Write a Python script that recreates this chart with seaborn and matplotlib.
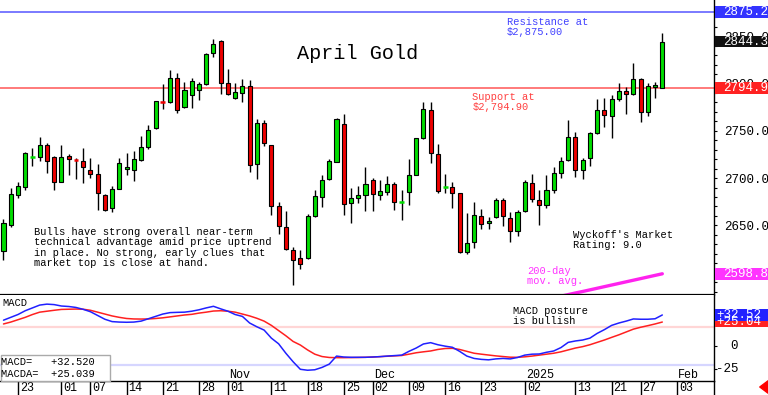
import matplotlib
matplotlib.use("Agg")
import numpy as np
import matplotlib.pyplot as plt
import matplotlib.transforms as mtransforms
from matplotlib.patches import Rectangle, FancyArrowPatch
from matplotlib.lines import Line2D
from matplotlib.ticker import MultipleLocator
import seaborn as sns

# ---------------- data (April Gold daily, Sep 19 2024 - Jan 30 2025) ----------------
opens = [2622.4, 2650.6, 2681.6, 2690.4, 2722.7, 2722.0, 2734.4, 2722.0, 2696.3, 2723.8,
         2719.4, 2718.5, 2708.6, 2704.4, 2681.6, 2668.2, 2688.6, 2709.4, 2708.6, 2719.2,
         2732.6, 2752.7, 2780.0, 2780.8, 2806.2, 2774.8, 2787.9, 2793.1, 2799.1, 2831.9,
         2845.2, 2800.9, 2784.3, 2789.6, 2797.7, 2714.6, 2757.9, 2734.4, 2670.6, 2648.1,
         2623.5, 2615.0, 2615.0, 2659.4, 2679.8, 2698.8, 2716.8, 2756.9, 2673.5, 2678.7,
         2681.6, 2698.1, 2682.3, 2685.1, 2693.9, 2674.9, 2685.1, 2703.4, 2742.1, 2772.0,
         2725.2, 2690.8, 2690.4, 2684.0, 2621.7, 2631.9, 2660.4, 2652.3, 2658.3, 2677.0,
         2657.6, 2643.5, 2664.7, 2694.6, 2677.0, 2671.0, 2687.5, 2705.8, 2719.2, 2743.9,
         2708.7, 2721.0, 2747.4, 2772.0, 2765.7, 2783.6, 2792.4, 2788.9, 2804.8, 2770.3,
         2796.7, 2795.6]
highs = [2656.9, 2689.3, 2696.3, 2728.0, 2731.5, 2743.9, 2736.8, 2723.4, 2734.4, 2725.6,
         2721.0, 2731.5, 2721.0, 2714.6, 2683.3, 2691.1, 2721.0, 2726.3, 2728.7, 2744.6,
         2756.2, 2781.5, 2799.5, 2814.3, 2810.7, 2801.9, 2805.5, 2801.9, 2832.6, 2846.6,
         2845.9, 2815.0, 2800.9, 2804.4, 2803.7, 2762.2, 2761.5, 2735.1, 2674.2, 2664.7,
         2627.0, 2624.2, 2661.8, 2687.5, 2702.7, 2719.9, 2763.2, 2767.8, 2689.3, 2691.1,
         2711.5, 2699.9, 2698.1, 2702.3, 2696.3, 2687.5, 2719.9, 2742.8, 2780.1, 2780.8,
         2735.8, 2704.4, 2696.3, 2684.7, 2662.6, 2675.2, 2667.5, 2658.7, 2678.7, 2678.7,
         2663.6, 2666.4, 2698.1, 2704.4, 2687.5, 2702.7, 2712.2, 2722.7, 2761.5, 2749.1,
         2721.0, 2749.1, 2783.3, 2784.3, 2787.9, 2800.2, 2796.7, 2822.0, 2805.5, 2800.9,
         2801.9, 2852.9]
lows = [2613.6, 2648.1, 2678.7, 2687.5, 2713.2, 2717.5, 2705.1, 2687.5, 2695.6, 2703.4,
        2699.2, 2694.6, 2699.9, 2666.4, 2664.7, 2663.6, 2688.6, 2703.4, 2697.4, 2718.5,
        2730.8, 2751.6, 2773.1, 2779.8, 2768.5, 2773.8, 2773.8, 2782.6, 2798.4, 2827.6,
        2788.9, 2787.9, 2783.6, 2780.1, 2706.9, 2698.8, 2734.0, 2661.1, 2641.1, 2624.2,
        2587.2, 2603.8, 2614.3, 2658.7, 2669.9, 2698.1, 2716.8, 2661.1, 2652.3, 2673.5,
        2664.7, 2664.7, 2676.3, 2681.6, 2666.4, 2655.2, 2671.7, 2702.7, 2741.0, 2716.4,
        2684.7, 2684.0, 2668.2, 2620.7, 2619.6, 2625.9, 2646.0, 2646.4, 2657.6, 2649.5,
        2632.3, 2638.9, 2663.6, 2675.2, 2649.9, 2668.2, 2684.0, 2699.9, 2718.5, 2701.6,
        2698.8, 2712.9, 2746.3, 2753.7, 2742.1, 2781.5, 2767.8, 2787.9, 2759.7, 2765.7,
        2784.3, 2794.9]
closes = [2652.3, 2683.3, 2691.8, 2726.3, 2723.2, 2734.4, 2717.5, 2695.6, 2722.0, 2720.3,
          2718.9, 2712.2, 2704.4, 2684.0, 2666.4, 2688.6, 2715.7, 2712.2, 2719.9, 2732.6,
          2750.9, 2781.5, 2779.5, 2806.2, 2772.0, 2793.1, 2803.0, 2799.1, 2830.8, 2841.7,
          2800.2, 2788.6, 2791.0, 2797.7, 2713.9, 2758.6, 2736.8, 2670.6, 2648.8, 2624.9,
          2613.6, 2609.4, 2659.4, 2681.2, 2698.1, 2717.5, 2762.5, 2672.4, 2678.7, 2681.6,
          2693.5, 2683.0, 2685.8, 2693.9, 2674.5, 2675.4, 2703.4, 2742.1, 2773.1, 2727.0,
          2685.8, 2691.3, 2684.0, 2621.7, 2631.2, 2661.1, 2651.6, 2654.8, 2677.0, 2659.4,
          2643.5, 2663.6, 2696.3, 2678.0, 2671.7, 2687.5, 2705.1, 2717.5, 2743.2, 2708.0,
          2719.2, 2747.4, 2772.0, 2766.7, 2783.6, 2792.4, 2788.9, 2804.4, 2770.3, 2797.7,
          2798.4, 2844.3]

ma_idx = [76, 77, 78, 79, 80, 81, 82, 83, 84, 85, 86, 87, 88, 89, 90, 91]
ma200 = [2573.4, 2575.1, 2576.8, 2578.5, 2580.1, 2581.8, 2583.5, 2585.2, 2586.9, 2588.6,
         2590.3, 2592.0, 2593.7, 2595.4, 2597.1, 2598.8]

macd = [27.0, 30.0, 33.0, 37.0, 40.0, 43.0, 44.0, 43.5, 42.0, 41.5,
        40.5, 38.5, 36.0, 32.0, 28.0, 25.5, 25.0, 24.8, 25.0, 26.0,
        28.5, 31.0, 33.5, 35.0, 35.3, 35.5, 36.5, 38.0, 40.0, 41.7,
        39.0, 36.5, 33.0, 31.0, 24.0, 20.0, 16.5, 8.0, 2.0, -8.0,
        -17.0, -25.0, -26.0, -25.5, -23.0, -19.5, -11.0, -12.0, -12.3, -12.3,
        -12.3, -12.0, -11.6, -11.0, -10.5, -10.0, -6.0, -2.5, 1.8, 3.2,
        1.0, -0.5, -1.7, -6.0, -11.0, -13.5, -14.5, -15.0, -14.0, -13.5,
        -14.0, -12.5, -10.0, -9.0, -8.8, -7.0, -5.6, -2.0, 3.5, 5.0,
        6.0, 8.0, 13.0, 17.0, 21.5, 24.0, 26.0, 28.3, 28.0, 28.0,
        28.5, 32.52]
macd_avg = [23.0, 25.0, 27.5, 30.0, 33.0, 35.5, 36.5, 37.5, 38.4, 38.6,
            38.8, 38.6, 37.5, 35.5, 33.5, 31.5, 30.0, 28.8, 28.3, 28.2,
            28.3, 28.8, 29.5, 30.5, 31.5, 32.5, 33.2, 34.5, 35.5, 36.7,
            37.0, 36.5, 35.5, 33.5, 31.5, 29.0, 26.0, 21.5, 16.0, 10.5,
            4.5, 0.7, -4.5, -9.0, -11.5, -12.5, -12.7, -12.7, -12.6, -12.5,
            -12.3, -12.0, -11.6, -11.2, -10.8, -10.4, -9.0, -7.5, -6.5, -5.6,
            -4.0, -3.0, -2.8, -4.0, -6.0, -8.0, -9.0, -9.9, -10.8, -11.5,
            -12.2, -12.3, -11.8, -11.0, -10.0, -9.0, -8.0, -6.5, -4.5, -2.5,
            -1.0, 1.0, 3.5, 6.0, 8.8, 11.5, 14.5, 17.5, 19.5, 21.2,
            23.0, 25.04]

day_tick_idx = [2, 8, 12, 17, 22, 27, 31, 37, 42, 47, 51, 56, 61, 66, 72, 79, 84, 88, 93]
day_tick_labels = ["23", "01", "07", "14", "21", "28", "01", "11", "18", "25", "02",
                   "09", "16", "23", "02", "13", "21", "27", "03"]
month_idx = [31, 51, 72, 93]
month_labels = ["Nov", "Dec", "2025", "Feb"]

resistance = 2875.2
support = 2794.9
last_price = 2844.3
ma_last = 2598.8
macd_last = 32.52
macda_last = 25.04
price_ticks = [2600, 2650, 2700, 2750, 2800, 2850]
macd_ticks = [0, -25]
macd_bands = [20, -20]

# ---------------- style ----------------
sns.set_style("white")
plt.rcParams['font.family'] = ['Liberation Mono', 'DejaVu Sans Mono']
plt.rcParams.update({'text.color': 'black', 'axes.edgecolor': 'black',
                     'xtick.color': 'black', 'ytick.color': 'black',
                     'axes.labelcolor': 'black'})

W, H = 768, 395
fig = plt.figure(figsize=(W / 100, H / 100), dpi=100)
main_bot, macd_bot, right_px = 294.5, 381.0, 713.5
ax = fig.add_axes([0, 1 - main_bot / H, right_px / W, main_bot / H])
ax2 = fig.add_axes([0, 1 - macd_bot / H, right_px / W, (macd_bot - main_bot) / H])
xlim = (-0.483, 98.07)

# ---------------- main price panel ----------------
n = len(closes)
idx = np.arange(n)
o = np.array(opens); c = np.array(closes)
up_col, dn_col = '#00dd00', '#ee0000'
cols = np.where(c >= o, up_col, dn_col)
bw = 0.56

ax.axhline(resistance, color='#7070ff', lw=1.3, zorder=1)
ax.axhline(support, color='#ff7070', lw=1.3, zorder=1)

ax.vlines(idx, lows, highs, color='black', lw=1.0, zorder=2)
body = np.abs(c - o)
doji = body < 1.0
ax.bar(idx[~doji], body[~doji], bottom=np.minimum(o, c)[~doji], width=bw,
       color=cols[~doji], edgecolor='black', linewidth=0.8, zorder=3)
for i in idx[doji]:
    ax.hlines(o[i], i - bw / 2 - 0.05, i + bw / 2 + 0.05, color=cols[i], lw=1.8, zorder=3)

sns.lineplot(x=ma_idx, y=ma200, ax=ax, color='#ff22ee', lw=2.4, zorder=2)

ax.set_xlim(*xlim)
ax.set_ylim(2576.9, 2888.2)
ax.set_xticks([])
ax.set_xlabel(''); ax.set_ylabel('')
ax.yaxis.tick_right()
ax.set_yticks(price_ticks)
ax.set_yticklabels([f"{v:.1f}" for v in price_ticks])
ax.yaxis.set_minor_locator(MultipleLocator(10))
ax.tick_params(axis='y', which='both', right=True, left=False, direction='out',
               length=2.5, width=0.8, pad=4.8, labelsize=9)
for s in ('left', 'top'):
    ax.spines[s].set_visible(False)
ax.spines['bottom'].set_linewidth(1.6)
ax.spines['right'].set_linewidth(1.0)

# value boxes on the right axis
def value_box(a, v, label, fc, h_units, x_text=723):
    tr = mtransforms.blended_transform_factory(a.transAxes, a.transData)
    a.add_patch(Rectangle((715 / right_px, v - h_units / 2), 60 / right_px, h_units,
                          transform=tr, facecolor=fc, edgecolor='none',
                          clip_on=False, zorder=10))
    a.text(x_text / right_px, v, label, transform=tr, color='white', fontsize=9,
           ha='left', va='center', clip_on=False, zorder=11)

value_box(ax, resistance, f"{resistance:.1f}", '#3333ff', 12.5)
value_box(ax, last_price, f"{last_price:.1f}", '#111111', 12.5)
value_box(ax, support, f"{support:.1f}", '#ff2222', 12.5)
value_box(ax, ma_last, f"{ma_last:.1f}", '#ff33ff', 12.5)

# ---------------- MACD panel ----------------
for v, colr in zip(macd_bands, ['#ffd6d6', '#d6d6ff']):
    ax2.axhline(v, color=colr, lw=1.6, zorder=1)
sns.lineplot(x=idx, y=macd_avg, ax=ax2, color='#ff2020', lw=1.1, zorder=3)
sns.lineplot(x=idx, y=macd, ax=ax2, color='#2020ff', lw=1.1, zorder=4)
ax2.set_xlim(*xlim)
ax2.set_ylim(-37.4, 54.2)
ax2.set_xlabel(''); ax2.set_ylabel('')
for s in ('left', 'top'):
    ax2.spines[s].set_visible(False)
ax2.spines['bottom'].set_linewidth(1.0)
ax2.spines['right'].set_linewidth(1.0)
ax2.yaxis.tick_right()
ax2.set_yticks(macd_ticks)
ax2.set_yticklabels([])
ax2.tick_params(axis='y', right=True, left=False, direction='out', length=2.5, width=0.8)
tr2 = mtransforms.blended_transform_factory(ax2.transAxes, ax2.transData)
for v in macd_ticks:
    ax2.text(738 / right_px, v, f"{v:d}", transform=tr2, fontsize=9,
             ha='right', va='center', clip_on=False)
value_box(ax2, macda_last, f"+{macda_last:.2f}", '#ff2222', 10.5, x_text=716)
value_box(ax2, macd_last, f"+{macd_last:.2f}", '#2222ff', 12.0, x_text=716)

ax2.set_xticks(day_tick_idx)
ax2.set_xticklabels([])
ax2.tick_params(axis='x', bottom=True, direction='out', length=10, width=1.0, color='black')
for i, lab in zip(day_tick_idx, day_tick_labels):
    ax2.annotate(lab, xy=(i, 0), xycoords=('data', 'axes fraction'), xytext=(2, -7),
                 textcoords='offset pixels', ha='left', va='center', fontsize=8.5,
                 annotation_clip=False)
for i, lab in zip(month_idx, month_labels):
    ax2.annotate(lab, xy=(i, 0), xycoords=('data', 'axes fraction'), xytext=(1.5, 6),
                 textcoords='offset pixels', ha='left', va='center', fontsize=8.5,
                 annotation_clip=False)

# ---------------- free text ----------------
def ftext(x, y_base, lines, step, **kw):
    for k, line in enumerate(lines):
        fig.text(x / W, 1 - (y_base + k * step) / H, line, va='baseline', ha='left',
                 zorder=6, **kw)

ftext(297, 59.3, ["April Gold"], 0, fontsize=14.5)
ftext(507, 25.0, ["Resistance at", r"\$2,875.00"], 10.3, fontsize=7.5, color='#4040ff')
ftext(472.5, 100.0, ["Support at", r"\$2,794.90"], 10.5, fontsize=7.5, color='#ff4040')
ftext(34.5, 234.5, ["Bulls have strong overall near-term",
                    "technical advantage amid price uptrend",
                    "in place. No strong, early clues that",
                    "market top is close at hand."], 10.5, fontsize=7.5)
ftext(573, 237.8, ["Wyckoff's Market", "Rating: 9.0"], 10.2, fontsize=7.5)
ftext(527, 274.0, ["200-day", "mov. avg."], 9.8, fontsize=7.5, color='#ff33ff')
ftext(2, 305.7, ["MACD"], 0, fontsize=7.5)
ftext(513, 314.3, ["MACD posture", "is bullish"], 9.8, fontsize=7.5)

# MACD readout box
fig.add_artist(Rectangle((0.5 / W, 1 - 381 / H), 109 / W, 26 / H, transform=fig.transFigure,
                         facecolor='white', edgecolor='#aaaaaa', lw=1.0, zorder=5))
ftext(1, 365.0, ["MACD=   +32.520", "MACDA=  +25.039"], 11.7, fontsize=7.5)

# right spine extension and red arrow
fig.add_artist(Line2D([right_px / W, right_px / W], [0, 14 / H], color='black', lw=1.0,
                      transform=fig.transFigure))
fig.add_artist(FancyArrowPatch((767, 8), (757, 8), transform=mtransforms.IdentityTransform(),
                               arrowstyle='simple,head_length=0.6,head_width=0.9,tail_width=0.45',
                               mutation_scale=10, color='red'))

fig.savefig("out.png", dpi=100)
